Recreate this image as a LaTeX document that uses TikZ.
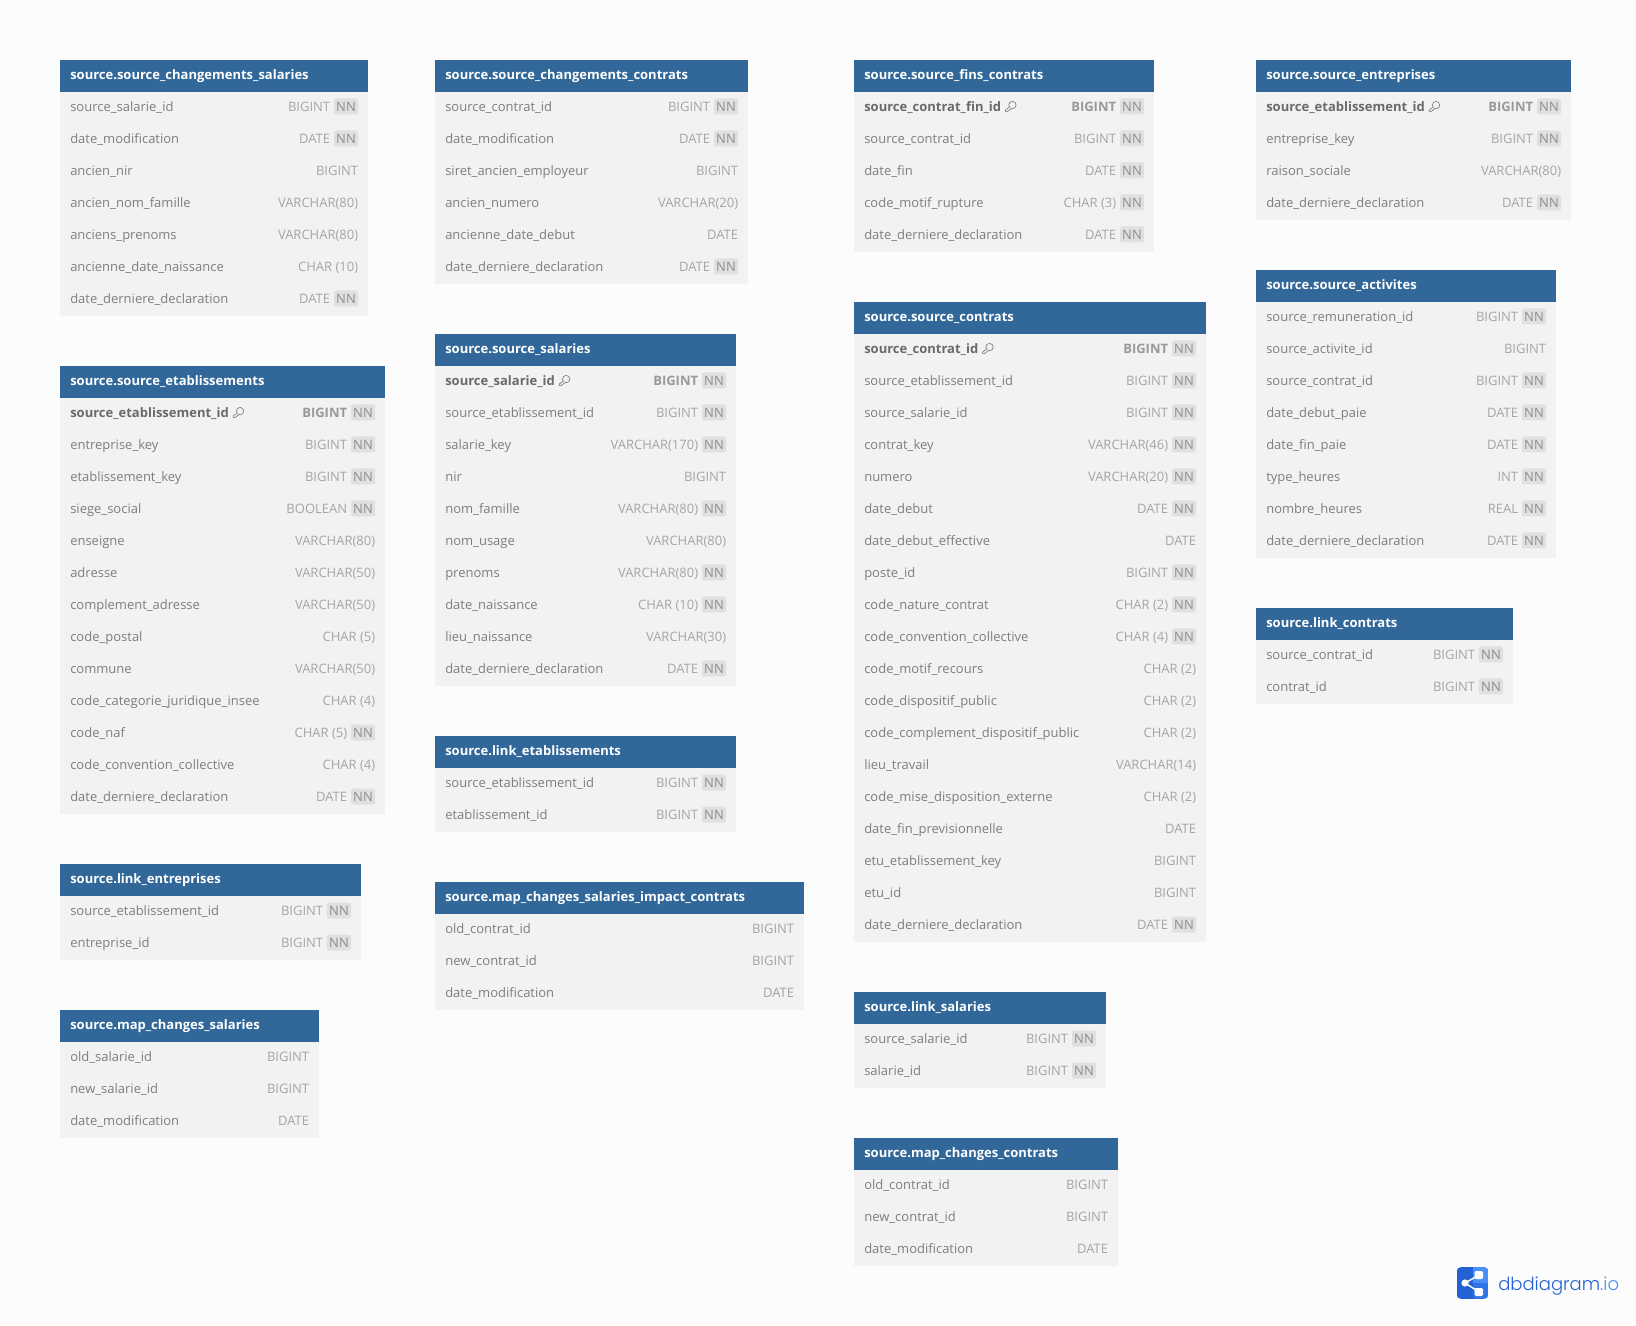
\documentclass[tikz,border=0pt]{standalone}
\usepackage{fontspec}
\setmainfont{Open Sans}
\newfontfamily\logofont{Poppins Light}
\AtBeginDocument{\catcode`\_=12 }
\definecolor{pagebg}{HTML}{FCFCFC}
\definecolor{headbg}{HTML}{316899}
\definecolor{rowbg}{HTML}{F2F2F2}
\definecolor{nametxt}{HTML}{7E7E7E}
\definecolor{typetxt}{HTML}{A5A5A5}
\definecolor{pkname}{HTML}{6A6A6A}
\definecolor{pktype}{HTML}{999999}
\definecolor{nnbg}{HTML}{E0E0E0}
\definecolor{nntxt}{HTML}{8C8C8C}
\definecolor{logodark}{HTML}{2261D3}
\definecolor{logomid}{HTML}{2F73E6}
\definecolor{logolight}{HTML}{4A8FF5}
\tikzset{
  rowtxt/.style={inner sep=0pt,font=\fontsize{9.75pt}{12pt}\selectfont},
  titletxt/.style={rowtxt,anchor=base west,text=white,font=\fontsize{9.75pt}{12pt}\selectfont\bfseries},
  fieldname/.style={rowtxt,anchor=base west,text=nametxt},
  fieldtype/.style={rowtxt,anchor=base east,text=typetxt},
  pkfield/.style={text=pkname,font=\fontsize{9.75pt}{12pt}\selectfont\bfseries},
  pktypef/.style={text=pktype,font=\fontsize{9.75pt}{12pt}\selectfont\bfseries},
  nnbadge/.style={fill=nnbg,rounded corners=1.5pt,inner sep=0pt,minimum width=18pt,minimum height=12pt,text height=7.8pt,text depth=0pt,text=nntxt,font=\fontsize{9.75pt}{12pt}\selectfont},
  keyicon/.style={draw=nametxt,line width=.5pt,fill=rowbg,line join=round},
}
% name, x, y, width, field count, title, rows (field/type/nn/pk)
\newcommand\dbtable[7]{%
  \fill[rowbg] (#2,#3) rectangle ++(#4,{32*(#5+1)});
  \fill[headbg] (#2,#3) rectangle ++(#4,32);
  \node[titletxt] (#1-title) at ({#2+10},{#3+19.6}) {#6};
  \foreach \fname/\ftype/\fnn/\fpk [count=\ri] in {#7} {
    \ifnum\fpk=1 \tikzset{thisname/.style={pkfield},thistype/.style={pktypef}}
    \else \tikzset{thisname/.style={},thistype/.style={}}\fi
    \node[fieldname,thisname] (#1-n\ri) at ({#2+10},{#3+32*\ri+19.6}) {\fname};
    \ifnum\fnn=1
      \node[nnbadge] (#1-b\ri) at ({#2+#4-22},{#3+32*\ri+14.5}) {NN};
      \node[fieldtype,thistype] (#1-t\ri) at ({#2+#4-37.6},{#3+32*\ri+19.6}) {\ftype};
    \else
      \node[fieldtype,thistype] (#1-t\ri) at ({#2+#4-9.6},{#3+32*\ri+19.6}) {\ftype};
    \fi
    \ifnum\fpk=1
      \begin{scope}[shift={(#1-n\ri.base east)}]
        \draw[keyicon] (11,-6.5) circle[radius=3.7];
        \draw[keyicon] (8,-4.5) -- (4,-1.5) -- (4.2,0) -- (6,0) -- (9.8,-3);
      \end{scope}
    \fi
  }
}
\begin{document}
\begin{tikzpicture}[x=0.75pt,y=-0.75pt]
\useasboundingbox (0,0) rectangle (1636,1326);
\fill[pagebg] (0,0) rectangle (1636,1326);

\dbtable{chsal}{60}{60}{308}{7}{source.source_changements_salaries}{
source_salarie_id/BIGINT/1/0,date_modification/DATE/1/0,ancien_nir/BIGINT/0/0,ancien_nom_famille/VARCHAR(80)/0/0,anciens_prenoms/VARCHAR(80)/0/0,ancienne_date_naissance/CHAR (10)/0/0,date_derniere_declaration/DATE/1/0}

\dbtable{etab}{60}{366}{325}{13}{source.source_etablissements}{
source_etablissement_id/BIGINT/1/1,entreprise_key/BIGINT/1/0,etablissement_key/BIGINT/1/0,siege_social/BOOLEAN/1/0,enseigne/VARCHAR(80)/0/0,adresse/VARCHAR(50)/0/0,complement_adresse/VARCHAR(50)/0/0,code_postal/CHAR (5)/0/0,commune/VARCHAR(50)/0/0,code_categorie_juridique_insee/CHAR (4)/0/0,code_naf/CHAR (5)/1/0,code_convention_collective/CHAR (4)/0/0,date_derniere_declaration/DATE/1/0}

\dbtable{lent}{60}{864}{301}{2}{source.link_entreprises}{
source_etablissement_id/BIGINT/1/0,entreprise_id/BIGINT/1/0}

\dbtable{msal}{60}{1010}{259}{3}{source.map_changes_salaries}{
old_salarie_id/BIGINT/0/0,new_salarie_id/BIGINT/0/0,date_modification/DATE/0/0}

\dbtable{chcon}{435}{60}{313}{6}{source.source_changements_contrats}{
source_contrat_id/BIGINT/1/0,date_modification/DATE/1/0,siret_ancien_employeur/BIGINT/0/0,ancien_numero/VARCHAR(20)/0/0,ancienne_date_debut/DATE/0/0,date_derniere_declaration/DATE/1/0}

\dbtable{sal}{435}{334}{301}{10}{source.source_salaries}{
source_salarie_id/BIGINT/1/1,source_etablissement_id/BIGINT/1/0,salarie_key/VARCHAR(170)/1/0,nir/BIGINT/0/0,nom_famille/VARCHAR(80)/1/0,nom_usage/VARCHAR(80)/0/0,prenoms/VARCHAR(80)/1/0,date_naissance/CHAR (10)/1/0,lieu_naissance/VARCHAR(30)/0/0,date_derniere_declaration/DATE/1/0}

\dbtable{letab}{435}{736}{301}{2}{source.link_etablissements}{
source_etablissement_id/BIGINT/1/0,etablissement_id/BIGINT/1/0}

\dbtable{mimp}{435}{882}{369}{3}{source.map_changes_salaries_impact_contrats}{
old_contrat_id/BIGINT/0/0,new_contrat_id/BIGINT/0/0,date_modification/DATE/0/0}

\dbtable{fins}{854}{60}{300}{5}{source.source_fins_contrats}{
source_contrat_fin_id/BIGINT/1/1,source_contrat_id/BIGINT/1/0,date_fin/DATE/1/0,code_motif_rupture/CHAR (3)/1/0,date_derniere_declaration/DATE/1/0}

\dbtable{con}{854}{302}{352}{19}{source.source_contrats}{
source_contrat_id/BIGINT/1/1,source_etablissement_id/BIGINT/1/0,source_salarie_id/BIGINT/1/0,contrat_key/VARCHAR(46)/1/0,numero/VARCHAR(20)/1/0,date_debut/DATE/1/0,date_debut_effective/DATE/0/0,poste_id/BIGINT/1/0,code_nature_contrat/CHAR (2)/1/0,code_convention_collective/CHAR (4)/1/0,code_motif_recours/CHAR (2)/0/0,code_dispositif_public/CHAR (2)/0/0,code_complement_dispositif_public/CHAR (2)/0/0,lieu_travail/VARCHAR(14)/0/0,code_mise_disposition_externe/CHAR (2)/0/0,date_fin_previsionnelle/DATE/0/0,etu_etablissement_key/BIGINT/0/0,etu_id/BIGINT/0/0,date_derniere_declaration/DATE/1/0}

\dbtable{lsal}{854}{992}{252}{2}{source.link_salaries}{
source_salarie_id/BIGINT/1/0,salarie_id/BIGINT/1/0}

\dbtable{mcon}{854}{1138}{264}{3}{source.map_changes_contrats}{
old_contrat_id/BIGINT/0/0,new_contrat_id/BIGINT/0/0,date_modification/DATE/0/0}

\dbtable{entr}{1256}{60}{315}{4}{source.source_entreprises}{
source_etablissement_id/BIGINT/1/1,entreprise_key/BIGINT/1/0,raison_sociale/VARCHAR(80)/0/0,date_derniere_declaration/DATE/1/0}

\dbtable{act}{1256}{270}{300}{8}{source.source_activites}{
source_remuneration_id/BIGINT/1/0,source_activite_id/BIGINT/0/0,source_contrat_id/BIGINT/1/0,date_debut_paie/DATE/1/0,date_fin_paie/DATE/1/0,type_heures/INT/1/0,nombre_heures/REAL/1/0,date_derniere_declaration/DATE/1/0}

\dbtable{lcon}{1256}{608}{257}{2}{source.link_contrats}{
source_contrat_id/BIGINT/1/0,contrat_id/BIGINT/1/0}

% logo
\begin{scope}
  \clip[rounded corners=3.5pt] (1456.5,1267) rectangle (1488.5,1299);
  \fill[logodark] (1456.5,1267) rectangle (1472.5,1299);
  \fill[logomid] (1472.5,1267) rectangle (1488.5,1299);
  \fill[logolight] (1472.5,1267) rectangle (1488.5,1283);
\end{scope}
\draw[white,line width=1.1pt] (1479,1275) -- (1465,1283) -- (1479,1292);
\fill[white] (1465,1283) circle[radius=3.6];
\fill[white,rounded corners=1pt] (1474.5,1271) rectangle (1483,1279);
\fill[white,rounded corners=1pt] (1474.5,1288) rectangle (1483,1296);
\node[inner sep=0pt,anchor=base west,text=logodark,font=\logofont\fontsize{13.5pt}{16pt}\selectfont] (logo) at (1498,1290) {dbdiagram\textcolor{logolight}{.io}};
\end{tikzpicture}
\end{document}
